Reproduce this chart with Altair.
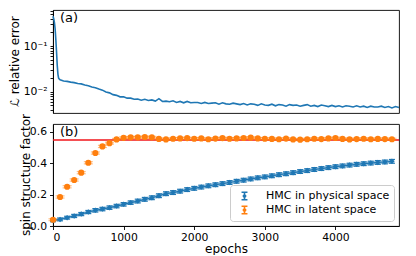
import altair as alt
import pandas as pd

# ---------------- data ----------------
loss_epochs = [0, 10, 20, 30, 40, 50, 60, 70, 80, 100, 150] + list(range(200, 4950, 50))
loss_values = [
    0.45, 0.40, 0.33, 0.24, 0.14, 0.075, 0.038, 0.024, 0.0195, 0.0182, 0.0172,
    0.0168, 0.0162, 0.0158, 0.0151, 0.0148, 0.0140, 0.0135, 0.0126, 0.0122, 0.0114,
    0.0108, 0.0098, 0.0094, 0.0086, 0.0083, 0.0077, 0.0077, 0.0072, 0.0072, 0.0068,
    0.0069, 0.0065, 0.0068, 0.0064, 0.0066, 0.0062, 0.0070, 0.0061, 0.0062, 0.0060,
    0.0063, 0.0058, 0.0061, 0.0057, 0.0061, 0.0057, 0.0058, 0.0058, 0.0055, 0.0058,
    0.0055, 0.0056, 0.0057, 0.0053, 0.0057, 0.0054, 0.0053, 0.0056, 0.0054, 0.0052,
    0.0055, 0.0051, 0.0054, 0.0053, 0.0050, 0.0054, 0.0051, 0.0050, 0.0053, 0.0049,
    0.0052, 0.0051, 0.0048, 0.0052, 0.0050, 0.0051, 0.0048, 0.0050, 0.0052, 0.0048,
    0.0050, 0.0047, 0.0051, 0.0049, 0.0047, 0.0050, 0.0047, 0.0049, 0.0046, 0.0049,
    0.0048, 0.0046, 0.0049, 0.0046, 0.0048, 0.0045, 0.0048, 0.0046, 0.0046, 0.0048,
    0.0045, 0.0047, 0.0044, 0.0047, 0.0045,
]

sf_epochs = list(range(0, 4900, 100))
physical_vals = [
    0.035, 0.042, 0.053, 0.064, 0.076, 0.089, 0.100, 0.108, 0.117, 0.127,
    0.138, 0.149, 0.159, 0.170, 0.180, 0.193, 0.206, 0.213, 0.222, 0.232,
    0.240, 0.248, 0.256, 0.263, 0.270, 0.277, 0.285, 0.292, 0.300, 0.307,
    0.313, 0.320, 0.327, 0.333, 0.340, 0.347, 0.353, 0.360, 0.366, 0.372,
    0.378, 0.383, 0.388, 0.393, 0.397, 0.401, 0.405, 0.408, 0.412,
]
physical_err = [
    0.008, 0.009, 0.009, 0.010, 0.010, 0.010, 0.011, 0.011, 0.011, 0.011,
    0.011, 0.011, 0.012, 0.012, 0.012, 0.012, 0.012, 0.012, 0.012, 0.012,
    0.012, 0.012, 0.012, 0.012, 0.012, 0.012, 0.012, 0.012, 0.012, 0.012,
    0.012, 0.012, 0.012, 0.012, 0.012, 0.012, 0.012, 0.012, 0.012, 0.012,
    0.012, 0.012, 0.012, 0.012, 0.012, 0.012, 0.012, 0.012, 0.012,
]
latent_vals = [
    0.040, 0.185, 0.250, 0.293, 0.340, 0.403, 0.465, 0.507, 0.528, 0.552,
    0.562, 0.565, 0.565, 0.567, 0.565, 0.555, 0.552, 0.556, 0.558, 0.560,
    0.556, 0.558, 0.553, 0.557, 0.560, 0.556, 0.558, 0.561, 0.563, 0.558,
    0.556, 0.555, 0.553, 0.557, 0.552, 0.550, 0.553, 0.556, 0.554, 0.558,
    0.561, 0.555, 0.552, 0.554, 0.556, 0.553, 0.555, 0.554, 0.553,
]
latent_err = [
    0.006, 0.007, 0.007, 0.007, 0.007, 0.007, 0.007, 0.007, 0.006, 0.006,
    0.006, 0.006, 0.006, 0.006, 0.006, 0.006, 0.006, 0.006, 0.006, 0.006,
    0.006, 0.006, 0.006, 0.006, 0.006, 0.006, 0.006, 0.006, 0.006, 0.006,
    0.006, 0.006, 0.006, 0.006, 0.006, 0.006, 0.006, 0.006, 0.006, 0.006,
    0.006, 0.006, 0.006, 0.006, 0.006, 0.006, 0.006, 0.006, 0.006,
]
series_names = ["HMC in physical space", "HMC in latent space"]
series_colors = ["#1f77b4", "#ff7f0e"]
reference_level = [0.548]
major_log_ticks = [0.01, 0.1]
minor_log_ticks = [0.004, 0.005, 0.006, 0.007, 0.008, 0.009,
                   0.02, 0.03, 0.04, 0.05, 0.06, 0.07, 0.08, 0.09,
                   0.2, 0.3, 0.4, 0.5, 0.6]
sf_ticks = [0.0, 0.2, 0.4, 0.6]
epoch_ticks = [0, 1000, 2000, 3000, 4000]
top_title = ["ℒ relative error"]
bottom_title = ["spin structure factor"]

# ---------------- tables ----------------
df_loss = pd.DataFrame({"epoch": loss_epochs, "loss": loss_values})
df_phys = pd.DataFrame({"epoch": sf_epochs, "value": physical_vals, "err": physical_err})
df_phys["series"] = series_names[0]
df_lat = pd.DataFrame({"epoch": sf_epochs, "value": latent_vals, "err": latent_err})
df_lat["series"] = series_names[1]
for d in (df_phys, df_lat):
    d["lo"] = d["value"] - d["err"]
    d["hi"] = d["value"] + d["err"]
df_all = pd.concat([df_phys, df_lat], ignore_index=True)

W, H1, H2 = 346, 103, 102
FONT = "DejaVu Sans"
xscale = alt.Scale(domain=[0, 4900], nice=False, zero=False)


def side_title(txt, x, h):
    return alt.Chart(pd.DataFrame({"t": txt})).mark_text(
        angle=270, align="center", baseline="middle", fontSize=12, font=FONT, color="black"
    ).encode(x=alt.value(x), y=alt.value(h / 2), text="t:N")


def panel_label(txt):
    return alt.Chart(pd.DataFrame({"t": [txt]})).mark_text(
        align="left", baseline="middle", fontSize=13, font=FONT, color="black"
    ).encode(x=alt.value(7), y=alt.value(8), text="t:N")


# ---------------- top panel ----------------
yscale_top = alt.Scale(type="log", domain=[0.0034, 0.62], nice=False)
top_line = alt.Chart(df_loss).mark_line(color="#1f77b4", strokeWidth=1.6).encode(
    x=alt.X("epoch:Q", scale=xscale, axis=None),
    y=alt.Y("loss:Q", scale=yscale_top,
            axis=alt.Axis(values=major_log_ticks + minor_log_ticks,
                          labelExpr="datum.value == 0.1 ? '10⁻¹' : (datum.value == 0.01 ? '10⁻²' : '')",
                          title=None, tickSize=3)),
)
top = alt.layer(top_line, panel_label("(a)"), side_title(top_title, -38, H1)).properties(
    width=W, height=H1)

# ---------------- bottom panel ----------------
ybot = alt.Scale(domain=[0, 0.65], nice=False)
xb = alt.X("epoch:Q", scale=xscale,
           axis=alt.Axis(values=epoch_ticks, title="epochs", format="d",
                         labelPadding=2, titlePadding=1))
yb_axis = alt.Axis(values=sf_ticks, format=".1f", title=None,
                   labelOverlap=False, tickCount=4)


def Yb(field):
    return alt.Y(field, type="quantitative", scale=ybot, axis=yb_axis)


red = alt.Chart(pd.DataFrame({"level": reference_level})).mark_rule(
    color="#f0151b", strokeWidth=1.5
).encode(y=Yb("level"))

band = alt.Chart(df_phys).mark_area(color="#1f77b4", opacity=0.45).encode(
    x=xb, y=Yb("lo"), y2="hi:Q")
bline = alt.Chart(df_phys).mark_line(color="#1f77b4", strokeWidth=1.2).encode(
    x=xb, y=Yb("value"))

legend = alt.Legend(
    title=None, orient="bottom-right", offset=5,
    symbolType="M-0.8,-1H0.8M0,-1V1M-0.8,1H0.8M0.3,0A0.3,0.3,0,1,1,-0.3,0A0.3,0.3,0,1,1,0.3,0",
    symbolSize=55, symbolStrokeWidth=1.6, symbolOffset=5,
    labelFontSize=11, labelFont=FONT, labelColor="black", labelLimit=300, labelOffset=16,
    strokeColor="#cccccc", fillColor="white", padding=4, cornerRadius=3,
    rowPadding=0, clipHeight=14,
)
color = alt.Color("series:N", scale=alt.Scale(domain=series_names, range=series_colors),
                  legend=legend)

err_rules = alt.Chart(df_all).mark_rule(strokeWidth=1.3).encode(
    x=xb, y=Yb("lo"), y2="hi:Q", color=color,
)


def caps(df, c, op, size):
    lo = alt.Chart(df).mark_tick(color=c, opacity=op, size=size, thickness=1.2, orient="horizontal").encode(
        x=xb, y=Yb("lo"))
    hi = alt.Chart(df).mark_tick(color=c, opacity=op, size=size, thickness=1.2, orient="horizontal").encode(
        x=xb, y=Yb("hi"))
    return lo + hi


bpts = alt.Chart(df_phys).mark_point(filled=True, shape="diamond", size=30, color="#1f77b4", opacity=1).encode(
    x=xb, y=Yb("value"))
opts = alt.Chart(df_lat).mark_point(filled=True, shape="circle", size=38, color="#ff7f0e", opacity=1).encode(
    x=xb, y=Yb("value"))

bottom = alt.layer(
    red, band, bline, err_rules,
    caps(df_phys, "#1f77b4", 1.0, 6), bpts,
    caps(df_lat, "#ff7f0e", 0.5, 9), opts,
    panel_label("(b)"), side_title(bottom_title, -27, H2),
).properties(width=W, height=H2)

chart = alt.vconcat(top, bottom, spacing=11, bounds="flush").resolve_scale(
    color="independent"
).properties(
    padding={"left": 0, "top": 1, "right": 4, "bottom": 0}
).configure_view(
    stroke="black", strokeWidth=0.9
).configure_axis(
    grid=False, domainColor="black", domainWidth=0.9, tickColor="black", tickWidth=0.9,
    tickSize=3.5, labelFont=FONT, labelFontSize=10.8, labelColor="black",
    titleFont=FONT, titleFontSize=12, titleFontWeight="normal", titleColor="black",
    labelPadding=3, titlePadding=4,
)

chart.save("out.html", embed_options={"renderer": "svg", "actions": False})
